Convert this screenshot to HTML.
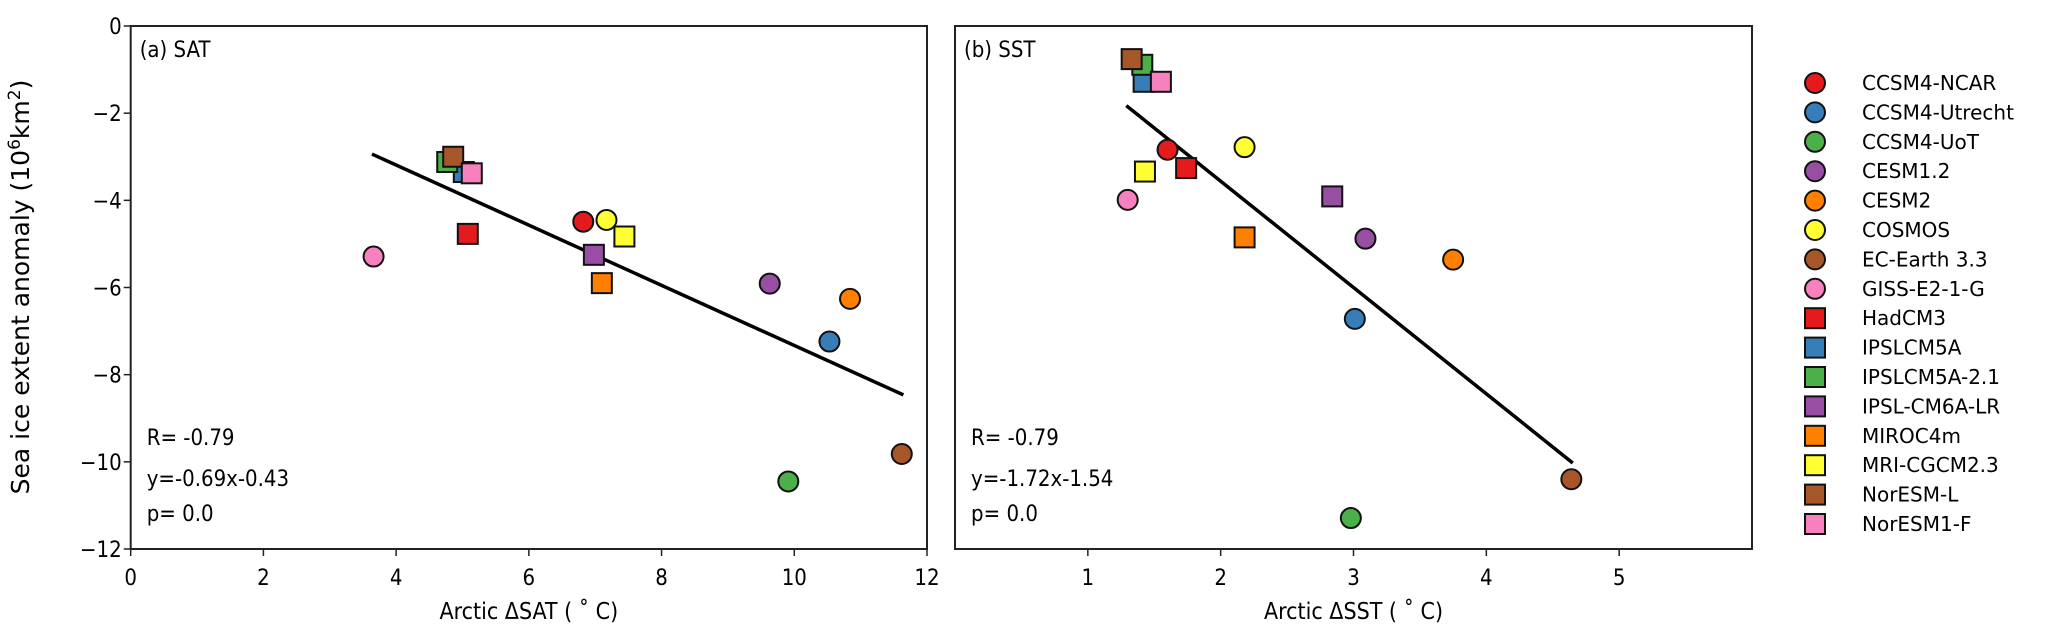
<!DOCTYPE html>
<html><head><meta charset="utf-8"><style>
html,body{margin:0;padding:0;background:#fff;}
svg{display:block;font-family:"DejaVu Sans","Liberation Sans",sans-serif;}
.cond{font-family:"DejaVu Sans Condensed","DejaVu Sans","Liberation Sans",sans-serif;font-stretch:condensed;}
</style></head><body>
<svg id="chart" width="2067" height="641" viewBox="0 0 2067 641" xmlns="http://www.w3.org/2000/svg">
<g id="panelA" class="cond"></g>
<g id="panelB" class="cond"></g>
<g id="legend"></g>
<text x="29" y="287" font-size="25" text-anchor="middle" transform="rotate(-90 29 287)">Sea ice extent anomaly (10<tspan dy="-9" font-size="17">6</tspan><tspan dy="9">km</tspan><tspan dy="-9" font-size="17">2</tspan><tspan dy="9">)</tspan></text>
</svg>
<script>
const models = ["CCSM4-NCAR","CCSM4-Utrecht","CCSM4-UoT","CESM1.2","CESM2","COSMOS","EC-Earth 3.3","GISS-E2-1-G","HadCM3","IPSLCM5A","IPSLCM5A-2.1","IPSL-CM6A-LR","MIROC4m","MRI-CGCM2.3","NorESM-L","NorESM1-F"];
const colors = ["#e41a1c","#377eb8","#4daf4a","#984ea3","#ff7f00","#ffff33","#a65628","#f781bf","#e41a1c","#377eb8","#4daf4a","#984ea3","#ff7f00","#ffff33","#a65628","#f781bf"];
const shapes = ["o","o","o","o","o","o","o","o","s","s","s","s","s","s","s","s"];
const satX = [6.82,10.53,9.91,9.63,10.84,7.17,11.62,3.66,5.08,5.02,4.77,6.98,7.10,7.44,4.86,5.14];
const satY = [-4.49,-7.24,-10.45,-5.91,-6.26,-4.45,-9.82,-5.29,-4.77,-3.35,-3.12,-5.25,-5.90,-4.83,-3.00,-3.38];
const sstX = [1.60,3.01,2.98,3.09,3.75,2.18,4.64,1.30,1.74,1.42,1.41,2.84,2.18,1.43,1.33,1.55];
const sstY = [-2.84,-6.72,-11.29,-4.88,-5.36,-2.78,-10.40,-3.99,-3.26,-1.28,-0.89,-3.91,-4.85,-3.34,-0.76,-1.28];
const fitA = [-0.69,-0.43];
const fitB = [-2.44,1.32];
const statsA = ["R= -0.79","y=-0.69x-0.43","p= 0.0"];
const statsB = ["R= -0.79","y=-1.72x-1.54","p= 0.0"];
const yTicks = [0,-2,-4,-6,-8,-10,-12];
const xTicksA = [0,2,4,6,8,10,12];
const xTicksB = [1,2,3,4,5];

const NS="http://www.w3.org/2000/svg";
function mk(tag,attrs,parent){const e=document.createElementNS(NS,tag);for(const k in attrs)e.setAttribute(k,attrs[k]);parent.appendChild(e);return e;}
const TOP=26,BOT=549;
function sy(v){return TOP+(0-v)/12*(BOT-TOP);}

function panel(g,L,R,xmin,xmax,xs,ys,fit,stats,xt,title,xlabel,drawYLabels){
  const sx=v=>L+(v-xmin)/(xmax-xmin)*(R-L);
  const f=mk('rect',{x:L,y:TOP,width:R-L,height:BOT-TOP,fill:'none',stroke:'#222','stroke-width':2},g);
  
  
  yTicks.forEach(v=>{
    if(!drawYLabels)return;
    const t=mk('line',{x1:L-7,x2:L,y1:sy(v),y2:sy(v),stroke:'#222','stroke-width':1.5},g);
    
    
    const tx=mk('text',{x:L-9,y:sy(v)+8,'font-size':22,'text-anchor':'end'},g);
    tx.textContent=(v<0?'\u2212'+(-v):''+v);
    
    
  });
  xt.forEach(v=>{
    const t=mk('line',{x1:sx(v),x2:sx(v),y1:BOT,y2:BOT+7,stroke:'#222','stroke-width':1.5},g);
    
    
    const tx=mk('text',{x:sx(v),y:585,'font-size':22,'text-anchor':'middle'},g);
    tx.textContent=''+v;
    
    
  });
  const xl=mk('text',{x:(L+R)/2,y:619,'font-size':23,'text-anchor':'middle'},g);
  xl.textContent=xlabel;
  
  
  const ti=mk('text',{x:L+9,y:57,'font-size':22},g);
  ti.textContent=title;
  
  
  let x0=Math.min(...xs),x1=Math.max(...xs);
  const ln=mk('line',{x1:sx(x0),y1:sy(fit[0]*x0+fit[1]),x2:sx(x1),y2:sy(fit[0]*x1+fit[1]),stroke:'#000','stroke-width':3.5,'stroke-linecap':'square'},g);
  
  
  const by=[445,486,521];
  stats.forEach((s,i)=>{
    const t=mk('text',{x:L+16,y:by[i],'font-size':22},g);
    t.textContent=s;
    
    
  });
  xs.forEach((xv,i)=>{
    const cx=sx(xv),cy=sy(ys[i]);let m;
    if(shapes[i]==='o') m=mk('circle',{cx:cx,cy:cy,r:10,fill:colors[i],stroke:'#111','stroke-width':2},g);
    else m=mk('rect',{x:cx-10,y:cy-10,width:20,height:20,fill:colors[i],stroke:'#111','stroke-width':2},g);
    
    
  });
}
panel(document.getElementById('panelA'),130.7,927,0,12,satX,satY,fitA,statsA,xTicksA,'(a) SAT','Arctic \u0394SAT ( \u02da C)',true);
panel(document.getElementById('panelB'),955,1752,0,6,sstX,sstY,fitB,statsB,xTicksB,'(b) SST','Arctic \u0394SST ( \u02da C)',false);

const lg=document.getElementById('legend');
models.forEach((m,i)=>{
  const cy=83+i*29.4,cx=1815;
  const g=mk('g',{},lg);
  
  
  if(shapes[i]==='o') mk('circle',{cx:cx,cy:cy,r:10,fill:colors[i],stroke:'#111','stroke-width':2},g);
  else mk('rect',{x:cx-10,y:cy-10,width:20,height:20,fill:colors[i],stroke:'#111','stroke-width':2},g);
  const t=mk('text',{x:1862,y:cy+7,'font-size':20},g);
  t.textContent=m;
});
</script>
</body></html>
